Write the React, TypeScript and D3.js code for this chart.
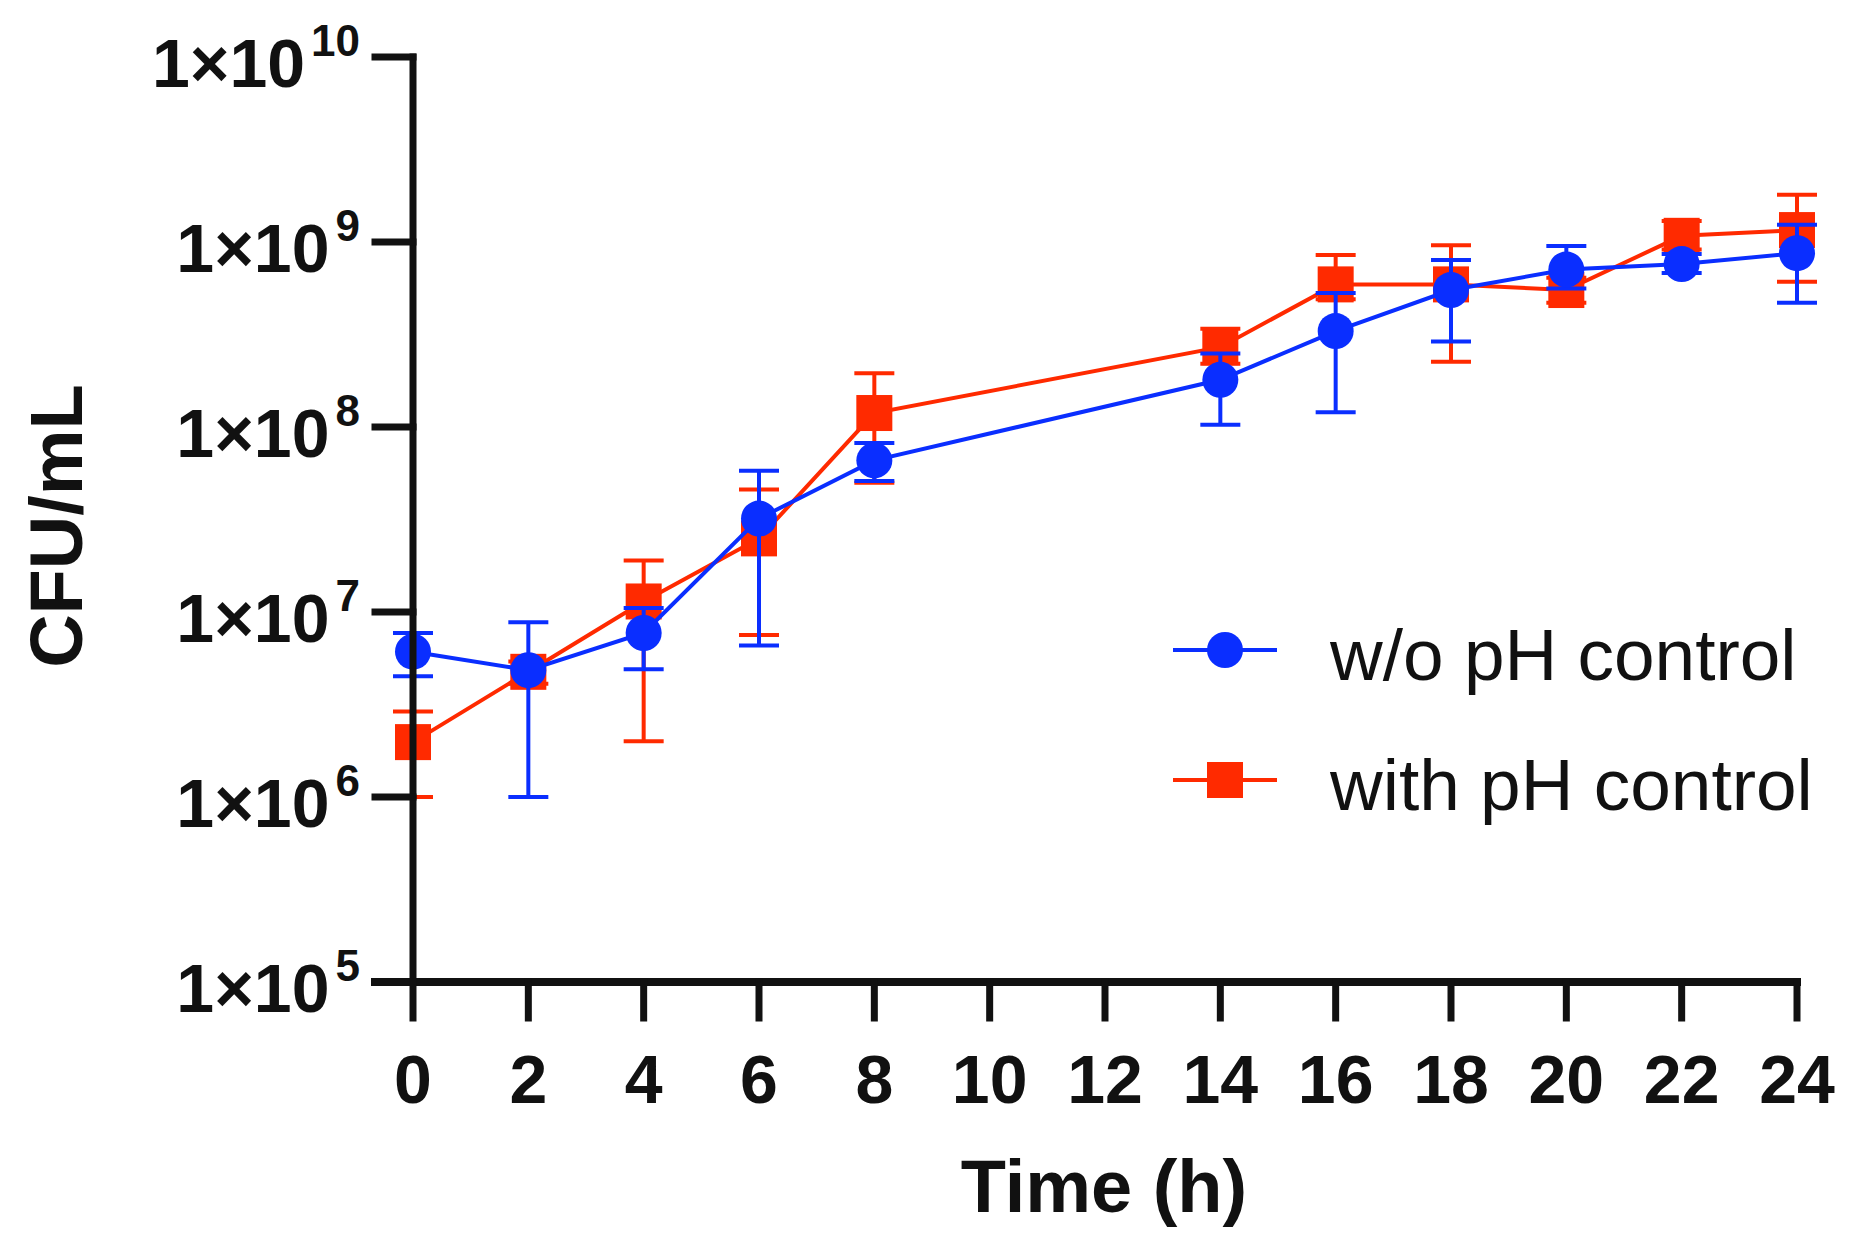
import React from "react";
import * as d3 from "d3";

// time points (h)
const times = [0, 2, 4, 6, 8, 14, 16, 18, 20, 22, 24];

// w/o pH control
const blueMean = [6.1e6, 4.85e6, 7.7e6, 3.2e7, 6.6e7, 1.8e8, 3.3e8, 5.5e8, 7.1e8, 7.6e8, 8.7e8];
const blueUpper = [7.7e6, 8.8e6, 1.05e7, 5.8e7, 8.2e7, 2.5e8, 5.3e8, 8.0e8, 9.5e8, 8.6e8, 1.24e9];
const blueLower = [4.5e6, 1.0e6, 4.9e6, 6.6e6, 5.1e7, 1.03e8, 1.2e8, 2.9e8, 5.6e8, 6.8e8, 4.7e8];

// with pH control
const redMean = [1.98e6, 4.75e6, 1.14e7, 2.5e7, 1.19e8, 2.7e8, 5.9e8, 5.9e8, 5.5e8, 1.08e9, 1.16e9];
const redUpper = [2.9e6, 5.4e6, 1.9e7, 4.6e7, 1.95e8, 3.4e8, 8.5e8, 9.6e8, 6.4e8, 1.3e9, 1.8e9];
const redLower = [1.0e6, 4.1e6, 2.0e6, 7.5e6, 5.0e7, 2.2e8, 4.9e8, 2.25e8, 4.7e8, 9.1e8, 6.1e8];

const xTicks = [0, 2, 4, 6, 8, 10, 12, 14, 16, 18, 20, 22, 24];
const yTickExps = [5, 6, 7, 8, 9, 10];

const seriesNames = ["w/o pH control", "with pH control"];

const BLUE = "#0a2eff";
const RED = "#ff2a00";
const FONT = "'Liberation Sans', Arial, Helvetica, sans-serif";

export default function App() {
  const W = 1855;
  const H = 1256;
  const x = d3.scaleLinear().domain([0, 24]).range([413, 1797]);
  const y = d3.scaleLog().domain([1e5, 1e10]).range([982, 57]);

  const line = d3
    .line<number>()
    .x((_, i) => x(times[i]))
    .y((d) => y(d));

  const series = [
    { name: seriesNames[1], color: RED, mean: redMean, up: redUpper, lo: redLower, shape: "square" },
    { name: seriesNames[0], color: BLUE, mean: blueMean, up: blueUpper, lo: blueLower, shape: "circle" },
  ];

  const capW = 20;

  return (
    <div>
      <style>{`body{margin:0;}`}</style>
      <svg width={W} height={H} viewBox={`0 0 ${W} ${H}`} style={{ display: "block", background: "#fff" }}>
        {/* series: red first, blue on top */}
        {series.map((s) => (
          <g key={s.name}>
            <path d={line(s.mean) || ""} fill="none" stroke={s.color} strokeWidth={4} />
            {s.mean.map((m, i) => {
              const cx = x(times[i]);
              return (
                <g key={i} stroke={s.color} strokeWidth={4}>
                  <line x1={cx} x2={cx} y1={y(s.up[i])} y2={y(s.lo[i])} />
                  <line x1={cx - capW} x2={cx + capW} y1={y(s.up[i])} y2={y(s.up[i])} />
                  <line x1={cx - capW} x2={cx + capW} y1={y(s.lo[i])} y2={y(s.lo[i])} />
                </g>
              );
            })}
            {s.mean.map((m, i) =>
              s.shape === "circle" ? (
                <circle key={i} cx={x(times[i])} cy={y(m)} r={18} fill={s.color} />
              ) : (
                <rect key={i} x={x(times[i]) - 18} y={y(m) - 18} width={36} height={36} fill={s.color} />
              )
            )}
          </g>
        ))}

        {/* axes */}
        <g stroke="#111" strokeLinecap="square">
          <line x1={413} x2={413} y1={y(1e10)} y2={y(1e5)} strokeWidth={7} />
          <line x1={375} x2={x(24)} y1={y(1e5)} y2={y(1e5)} strokeWidth={8} />
          {yTickExps.map((e) => (
            <line key={e} x1={375} x2={413} y1={y(Math.pow(10, e))} y2={y(Math.pow(10, e))} strokeWidth={7} />
          ))}
          {xTicks.map((t) => (
            <line key={t} x1={x(t)} x2={x(t)} y1={982} y2={1018} strokeWidth={7} />
          ))}
        </g>

        {/* y tick labels */}
        {yTickExps.map((e) => (
          <text
            key={e}
            x={360}
            y={y(Math.pow(10, e)) + 30}
            textAnchor="end"
            fontFamily={FONT}
            fontWeight="bold"
            fontSize={68}
            fill="#111"
          >
            <tspan>1×10</tspan>
            <tspan dx={6} dy={-31} fontSize={44}>
              {e}
            </tspan>
          </text>
        ))}

        {/* x tick labels */}
        {xTicks.map((t) => (
          <text
            key={t}
            x={x(t)}
            y={1103}
            textAnchor="middle"
            fontFamily={FONT}
            fontWeight="bold"
            fontSize={68}
            fill="#111"
          >
            {t}
          </text>
        ))}

        {/* axis titles */}
        <text x={1104} y={1212} textAnchor="middle" fontFamily={FONT} fontWeight="bold" fontSize={74} fill="#111">
          Time (h)
        </text>
        <text
          transform="translate(82,526) rotate(-90)"
          textAnchor="middle"
          fontFamily={FONT}
          fontWeight="bold"
          fontSize={74}
          fill="#111"
        >
          CFU/mL
        </text>

        {/* legend */}
        {[
          { name: seriesNames[0], color: BLUE, shape: "circle", ly: 650 },
          { name: seriesNames[1], color: RED, shape: "square", ly: 780 },
        ].map((l) => (
          <g key={l.name}>
            <line x1={1173} x2={1277} y1={l.ly} y2={l.ly} stroke={l.color} strokeWidth={4} />
            {l.shape === "circle" ? (
              <circle cx={1225} cy={l.ly} r={18} fill={l.color} />
            ) : (
              <rect x={1207} y={l.ly - 18} width={36} height={36} fill={l.color} />
            )}
            <text x={1330} y={l.ly + 30} fontFamily={FONT} fontSize={73} fill="#111">
              {l.name}
            </text>
          </g>
        ))}
      </svg>
    </div>
  );
}
